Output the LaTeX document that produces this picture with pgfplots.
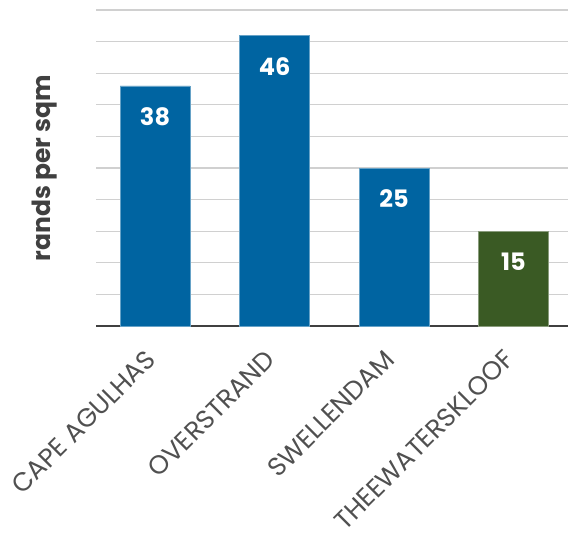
\documentclass[border=0pt]{standalone}
\usepackage{pgfplots}
\pgfplotsset{compat=1.18}
\usepackage{fontspec}
\setmainfont{Poppins}
\definecolor{barblue}{HTML}{0064A1}
\definecolor{bargreen}{HTML}{3A5A24}
\definecolor{txtgray}{HTML}{404040}
\definecolor{lblgray}{HTML}{505050}
\definecolor{gridgray}{HTML}{D0D0D0}
\begin{document}
\begin{tikzpicture}
\useasboundingbox (0,0) rectangle (568pt,536pt);
\begin{axis}[
  at={(96pt,210pt)}, anchor=south west,
  scale only axis, width=472pt, height=316pt,
  xmin=-0.494, xmax=3.456, ymin=0, ymax=50,
  separate axis lines,
  axis x line*=bottom, axis y line*=left,
  x axis line style={line width=2.6pt, draw=txtgray},
  y axis line style={draw=none},
  ytick={5,10,...,50}, yticklabels={}, ymajorgrids,
  major grid style={gridgray, line width=1.3pt},
  xtick={0,1,2,3},
  xticklabels={CAPE AGULHAS, OVERSTRAND, SWELLENDAM, THEEWATERSKLOOF},
  major tick length=0pt,
  xticklabel style={xshift=-11pt, yshift=-22pt, rotate=45, anchor=north east, inner sep=0pt, font=\fontsize{26}{30}\selectfont, text=lblgray},
  ylabel={\textbf{rands per sqm}},
  ylabel style={at={(axis description cs:0,0.5)}, anchor=center, yshift=51pt, font=\fontsize{25}{28}\selectfont, text=txtgray},
  ybar, bar width=70pt, bar shift=0pt,
  nodes near coords={\textbf{\pgfmathprintnumber[assume math mode=true]{\pgfplotspointmeta}}},
  every node near coord/.append style={anchor=center, yshift=-31pt, text=white, font=\fontsize{24}{27}\selectfont},
  clip=false,
]
\addplot[fill=barblue, draw=barblue!60!white, line width=0.6pt] coordinates {(0,38) (1,46) (2,25)};
\addplot[fill=bargreen, draw=bargreen!60!white, line width=0.6pt] coordinates {(3,15)};
\end{axis}
\end{tikzpicture}
\end{document}
